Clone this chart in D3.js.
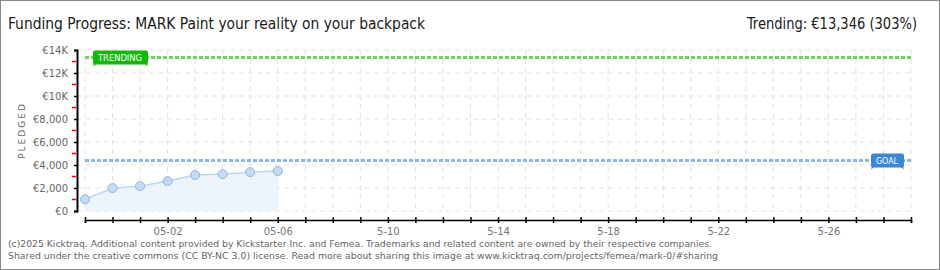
<!DOCTYPE html>
<html>
<head>
<meta charset="utf-8">
<script src="https://cdn.jsdelivr.net/npm/d3@7"></script>
<style>
  body { margin: 0; background: #fff; }
  svg { display: block; }
  .title { font-family: 'DejaVu Sans Condensed', 'DejaVu Sans', sans-serif; fill: #1a1a1a; }
  .lbl { font-family: 'DejaVu Sans', sans-serif; fill: #666; }
</style>
</head>
<body>
<main></main>
<script>
// chart data
var dates = ['2025-04-29', '2025-04-30', '2025-05-01', '2025-05-02', '2025-05-03', '2025-05-04', '2025-05-05', '2025-05-06']
var pledged = [1020, 1990, 2160, 2600, 3120, 3210, 3380, 3470]
var goal = 4400
var trending = 13346
var campaign = ['2025-04-29', '2025-05-29']
var yTicks = [0, 2000, 4000, 6000, 8000, 10000, 12000, 14000]
var yTickLabels = ['€0', '€2,000', '€4,000', '€6,000', '€8,000', '€10K', '€12K', '€14K']
var xTickDates = ['2025-05-02', '2025-05-06', '2025-05-10', '2025-05-14', '2025-05-18', '2025-05-22', '2025-05-26']
var xTickLabels = ['05-02', '05-06', '5-10', '5-14', '5-18', '5-22', '5-26']

var W = 940, H = 270
var parseDay = d3.utcParse('%Y-%m-%d')

var data = dates.map((d, i) => ({ date: parseDay(d), value: pledged[i] }))

var x = d3.scaleUtc().domain(campaign.map(parseDay)).range([85, 911])
var y = d3.scaleLinear().domain([0, 14000]).range([211, 50])

var svg = d3.select('main').append('svg')
    .attr('width', W)
    .attr('height', H)

// frame
svg.append('rect')
    .attr('x', 0.5).attr('y', 0.5)
    .attr('width', W - 1).attr('height', H - 1)
    .attr('fill', '#fff')
    .attr('stroke', '#888')

// title + trending
svg.append('text')
    .attr('class', 'title')
    .attr('x', 8).attr('y', 29)
    .attr('font-size', 15)
    .attr('textLength', 417)
    .attr('lengthAdjust', 'spacingAndGlyphs')
    .text('Funding Progress: MARK Paint your reality on your backpack')

svg.append('text')
    .attr('class', 'title')
    .attr('x', 917).attr('y', 29)
    .attr('font-size', 15)
    .attr('text-anchor', 'end')
    .attr('textLength', 170)
    .attr('lengthAdjust', 'spacingAndGlyphs')
    .text(`Trending: €${d3.format(',')(trending)} (${Math.round(trending / goal * 100)}%)`)

// grid
var days = d3.utcDay.range(x.domain()[0], d3.utcDay.offset(x.domain()[1], 1))
svg.append('g')
    .selectAll('line')
    .data(days)
    .enter().append('line')
    .attr('x1', d => x(d)).attr('x2', d => x(d))
    .attr('y1', y(14000)).attr('y2', y(0))
    .attr('stroke', '#e2e2e2')
    .attr('stroke-dasharray', '5,4')

svg.append('g')
    .selectAll('line')
    .data(yTicks)
    .enter().append('line')
    .attr('x1', 77).attr('x2', 911)
    .attr('y1', d => y(d)).attr('y2', d => y(d))
    .attr('stroke', '#e2e2e2')
    .attr('stroke-dasharray', '5,4')

// area + line + points
var area = d3.area()
    .x(d => x(d.date))
    .y0(y(0))
    .y1(d => y(d.value))
var line = d3.line()
    .x(d => x(d.date))
    .y(d => y(d.value))

svg.append('path')
    .datum(data)
    .attr('d', area)
    .attr('fill', '#edf4fc')

svg.append('path')
    .datum(data)
    .attr('d', line)
    .attr('fill', 'none')
    .attr('stroke', '#bcd6f2')
    .attr('stroke-width', 1.5)

svg.append('g')
    .selectAll('circle')
    .data(data)
    .enter().append('circle')
    .attr('cx', d => x(d.date))
    .attr('cy', d => y(d.value))
    .attr('r', 4.5)
    .attr('fill', '#c4dbf6')
    .attr('stroke', '#95b5dc')

// goal + trending lines
function refLine (val, color, label, boxColor, boxX, boxW) {
    svg.append('line')
        .attr('x1', 85).attr('x2', 911)
        .attr('y1', y(val)).attr('y2', y(val))
        .attr('stroke', color)
        .attr('stroke-width', 3)
        .attr('stroke-dasharray', '4,2')
    var g = svg.append('g')
        .attr('transform', `translate(${boxX}, ${y(val) - 7})`)
    g.append('rect')
        .attr('width', boxW).attr('height', 14)
        .attr('rx', 2)
        .attr('fill', boxColor)
    g.append('path')
        .attr('d', `M1,13 L0,16 L4,13 Z M${boxW - 1},13 L${boxW},16 L${boxW - 4},13 Z`)
        .attr('fill', boxColor)
    g.append('text')
        .attr('x', 5).attr('y', 10.5)
        .attr('font-family', 'DejaVu Sans, sans-serif')
        .attr('font-size', 9)
        .attr('textLength', boxW - 11)
        .attr('lengthAdjust', 'spacingAndGlyphs')
        .attr('fill', '#fff')
        .text(label)
}
refLine(trending, '#6fd45f', 'TRENDING', '#14b80a', 93, 55)
refLine(goal, '#8ab8ea', 'GOAL', '#3a87d8', 871, 33)

// y-axis
var yAxis = svg.append('g')
    .attr('transform', 'translate(77, 0)')
    .call(d3.axisLeft(y).tickValues(yTicks).tickSize(3)
        .tickFormat((d, i) => yTickLabels[i]))
yAxis.select('.domain').attr('stroke', '#000').attr('stroke-width', 2)
yAxis.selectAll('.tick line').attr('stroke', '#000').attr('stroke-width', 1.5).attr('x2', -3).attr('x1', 1)
yAxis.selectAll('.tick text')
    .attr('class', 'lbl')
    .attr('x', -9)
    .attr('font-size', 10)
    .attr('font-family', 'DejaVu Sans, sans-serif')
    .attr('fill', '#666')

// red minor ticks
svg.append('g')
    .selectAll('line')
    .data(yTicks.slice(0, -1))
    .enter().append('line')
    .attr('x1', 72).attr('x2', 76)
    .attr('y1', d => y(d + 1000)).attr('y2', d => y(d + 1000))
    .attr('stroke', '#e00')
    .attr('stroke-width', 1.5)

svg.append('text')
    .attr('class', 'lbl')
    .attr('transform', `translate(25, ${y(7000)}) rotate(-90)`)
    .attr('text-anchor', 'middle')
    .attr('font-size', 9)
    .attr('letter-spacing', 2)
    .text('PLEDGED')

// x-axis
var xAxis = svg.append('g')
    .attr('transform', 'translate(0, 220)')
    .call(d3.axisBottom(x).tickValues(days).tickSize(3)
        .tickFormat(d => {
            var i = xTickDates.indexOf(d3.utcFormat('%Y-%m-%d')(d))
            return i < 0 ? '' : xTickLabels[i]
        }))
xAxis.select('.domain').attr('stroke', '#000').attr('stroke-width', 1.5)
xAxis.selectAll('.tick line').attr('stroke', '#000').attr('stroke-width', 1.5).attr('y1', -3).attr('y2', 3)
xAxis.selectAll('.tick text')
    .attr('y', 8)
    .attr('font-size', 10)
    .attr('font-family', 'DejaVu Sans, sans-serif')
    .attr('fill', '#777')

// footer
var footer = [
    '(c)2025 Kicktraq. Additional content provided by Kickstarter Inc. and Femea. Trademarks and related content are owned by their respective companies.',
    'Shared under the creative commons (CC BY-NC 3.0) license. Read more about sharing this image at www.kicktraq.com/projects/femea/mark-0/#sharing'
]
svg.append('g')
    .selectAll('text')
    .data(footer)
    .enter().append('text')
    .attr('class', 'lbl')
    .attr('x', 8)
    .attr('y', (d, i) => 247 + i * 12)
    .attr('font-size', 9.5)
    .attr('textLength', (d, i) => i ? 710 : 704)
    .attr('lengthAdjust', 'spacingAndGlyphs')
    .text(d => d)
</script>
</body>
</html>
